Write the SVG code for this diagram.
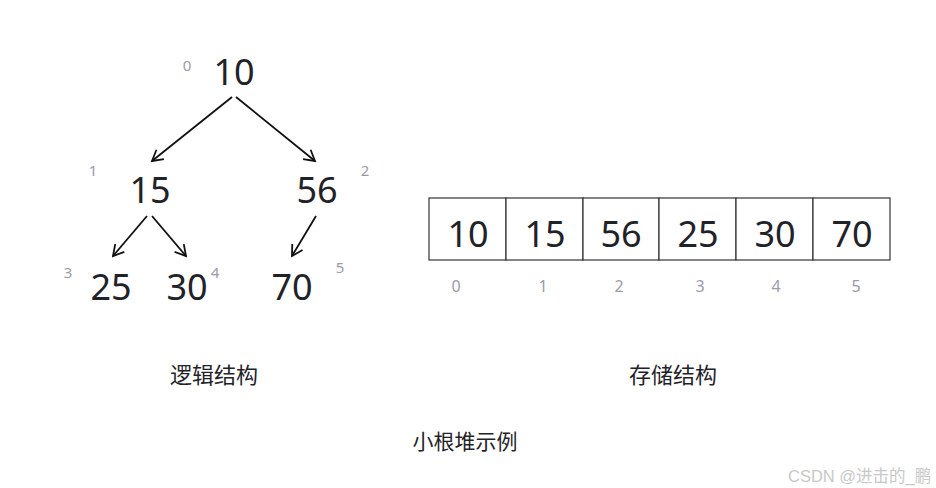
<svg xmlns="http://www.w3.org/2000/svg" width="936" height="488" viewBox="0 0 936 488">
<defs>
<style>
.num{font-family:"Noto Sans","Open Sans",sans-serif;font-size:36px;fill:#1f2329;text-anchor:middle}
.idx{font-family:"Noto Sans","Open Sans",sans-serif;font-size:15px;fill:#9a9ba8;text-anchor:middle}
.aidx{font-family:"Noto Sans","Open Sans",sans-serif;font-size:16px;fill:#9a9ba8;text-anchor:middle}
.cap{font-family:"Noto Sans CJK SC","Noto Sans",sans-serif;font-size:22px;fill:#1f2329;text-anchor:middle}
.edge{stroke:#111;stroke-width:1.8;fill:none;marker-end:url(#arr)}
.cell{fill:#fff;stroke:#333;stroke-width:1.2}
.wm{font-family:"Liberation Sans","Noto Sans CJK SC",sans-serif;font-size:16.5px;fill:#c8c8c8}
</style>
<marker id="arr" viewBox="0 0 14 14" refX="12" refY="7" markerWidth="14" markerHeight="14" markerUnits="userSpaceOnUse" orient="auto">
<path d="M1.5,1 L12,7 L1.5,13" fill="none" stroke="#111" stroke-width="1.8"/>
</marker>
</defs>
<rect width="936" height="488" fill="#fff"/>
<g id="connectors">
<line class="edge" x1="232" y1="97" x2="152" y2="161"/>
<line class="edge" x1="236" y1="97" x2="315" y2="161"/>
<line class="edge" x1="147" y1="216" x2="113" y2="256"/>
<line class="edge" x1="152" y1="216" x2="186" y2="256"/>
<line class="edge" x1="316" y1="216" x2="292" y2="256"/>
</g>
<g id="node0"><text class="num" x="234" y="85">10</text><text class="idx" x="187" y="71">0</text></g>
<g id="node1"><text class="num" x="150" y="203">15</text><text class="idx" x="93" y="176">1</text></g>
<g id="node2"><text class="num" x="317" y="203">56</text><text class="idx" x="365" y="176">2</text></g>
<g id="node3"><text class="num" x="111" y="300">25</text><text class="idx" x="68" y="278">3</text></g>
<g id="node4"><text class="num" x="187" y="300">30</text><text class="idx" x="215" y="278">4</text></g>
<g id="node5"><text class="num" x="292" y="300">70</text><text class="idx" x="340" y="273">5</text></g>
<g id="array">
<rect class="cell" x="429" y="198" width="77" height="62"/>
<rect class="cell" x="506" y="198" width="77" height="62"/>
<rect class="cell" x="583" y="198" width="76" height="62"/>
<rect class="cell" x="659" y="198" width="77" height="62"/>
<rect class="cell" x="736" y="198" width="77" height="62"/>
<rect class="cell" x="813" y="198" width="77" height="62"/>
<text class="num" x="468" y="247">10</text>
<text class="num" x="545" y="247">15</text>
<text class="num" x="621" y="247">56</text>
<text class="num" x="698" y="247">25</text>
<text class="num" x="775" y="247">30</text>
<text class="num" x="852" y="247">70</text>
<text class="aidx" x="456" y="292">0</text>
<text class="aidx" x="543" y="292">1</text>
<text class="aidx" x="619" y="292">2</text>
<text class="aidx" x="700" y="292">3</text>
<text class="aidx" x="776" y="292">4</text>
<text class="aidx" x="856" y="292">5</text>
</g>
<g id="captions">
<text class="cap" x="214" y="383">逻辑结构</text>
<text class="cap" x="673" y="383">存储结构</text>
<text class="cap" x="465" y="449" style="font-size:21px">小根堆示例</text>
</g>
<text class="wm" x="788" y="482">CSDN @进击的_鹏</text>
</svg>
